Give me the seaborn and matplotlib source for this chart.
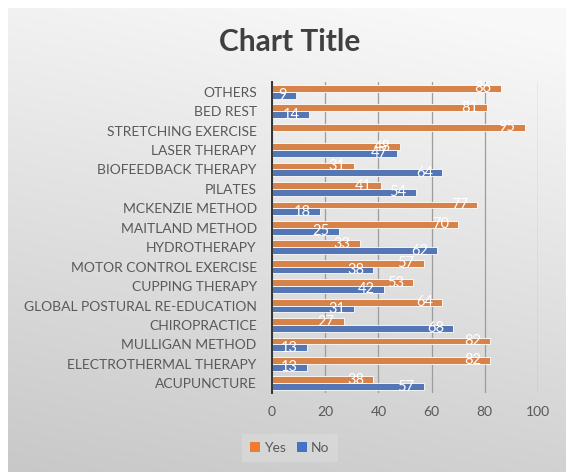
import numpy as np
import pandas as pd
import matplotlib
matplotlib.use("Agg")
import matplotlib.pyplot as plt
import seaborn as sns
from matplotlib.patches import Patch

categories = ["OTHERS", "BED REST", "STRETCHING EXERCISE", "LASER THERAPY",
              "BIOFEEDBACK THERAPY", "PILATES", "MCKENZIE METHOD", "MAITLAND METHOD",
              "HYDROTHERAPY", "MOTOR CONTROL EXERCISE", "CUPPING THERAPY",
              "GLOBAL POSTURAL RE-EDUCATION", "CHIROPRACTICE", "MULLIGAN METHOD",
              "ELECTROTHERMAL THERAPY", "ACUPUNCTURE"]
yes_values = [86, 81, 95, 48, 31, 41, 77, 70, 33, 57, 53, 64, 27, 82, 82, 38]
no_values = [9, 14, np.nan, 47, 64, 54, 18, 25, 62, 38, 42, 31, 68, 13, 13, 57]
series_names = ["Yes", "No"]
x_ticks = [0, 20, 40, 60, 80, 100]

colors = {"Yes": "#ED7D31", "No": "#4472C4"}

df = pd.DataFrame({
    "category": categories * 2,
    "series": ["Yes"] * len(categories) + ["No"] * len(categories),
    "value": yes_values + no_values,
})

sns.set_theme(style="white")
plt.rcParams["font.family"] = ["Lato", "DejaVu Sans"]

W, H = 566, 472
fig = plt.figure(figsize=(W / 100, H / 100), dpi=100)
fig.patch.set_facecolor("white")

# gradient background panel
bg = fig.add_axes([8 / W, 0, 1 - 8 / W, 1 - 8 / H])
bg.set_zorder(-10)
yy, xx = np.mgrid[0:1:200j, 0:1:200j]
t = np.clip(0.85 * yy + 0.2 * (1 - xx) - 0.05, 0, 1)
top = np.array([0.975, 0.975, 0.975])
bot = np.array([0.785, 0.785, 0.785])
img = top[None, None, :] * (1 - t[..., None]) + bot[None, None, :] * t[..., None]
bg.imshow(img, aspect="auto", extent=[0, 1, 0, 1], origin="upper")
bg.set_axis_off()

ax = fig.add_axes([272 / W, 1 - 393.0 / H, (538 - 272) / W, (393.0 - 82.0) / H])
ax.set_facecolor("none")

sns.barplot(data=df, y="category", x="value", hue="series", order=categories,
            hue_order=series_names, palette=colors, orient="h", width=0.7,
            errorbar=None, edgecolor="white", linewidth=0.6, ax=ax, legend=False,
            zorder=3)

for c in ax.containers:
    texts = ax.bar_label(c, fmt="%g", padding=-6.5, color="white", fontsize=10.5)
    for tx in texts:
        tx.set_ha("right")

ax.set_xlim(0, 100)
ax.set_xticks(x_ticks)
ax.set_xticklabels([str(v) for v in x_ticks])
ax.set_xlabel("")
ax.set_ylabel("")
ax.grid(axis="x", color="#9C9C9C", linewidth=0.9, zorder=0)
ax.set_axisbelow(True)
for s in ["top", "right", "bottom"]:
    ax.spines[s].set_visible(False)
ax.spines["left"].set_color("#333333")
ax.spines["left"].set_linewidth(1.4)
ax.spines["left"].set_zorder(5)
ax.tick_params(axis="y", length=0, pad=11, labelsize=10, labelcolor="#595959")
ax.tick_params(axis="x", length=0, pad=9, labelsize=10, labelcolor="#595959")

fig.text(290 / W, 1 - 42 / H, "Chart Title", ha="center", va="center",
         fontsize=21.5, fontweight="bold", color="#404040")

handles = [Patch(facecolor=colors[s], edgecolor="none", label=s) for s in series_names]
leg = fig.legend(handles=handles, loc="center", bbox_to_anchor=(290 / W, 1 - 448 / H),
                 ncol=2, frameon=True, fontsize=10, handlelength=0.7, handleheight=0.7,
                 handletextpad=0.3, columnspacing=0.8, borderpad=0.6, fancybox=False)
leg.get_frame().set_facecolor("#D9D9D9")
leg.get_frame().set_edgecolor("none")
for tx in leg.get_texts():
    tx.set_color("#595959")

fig.savefig("out.png", dpi=100)
